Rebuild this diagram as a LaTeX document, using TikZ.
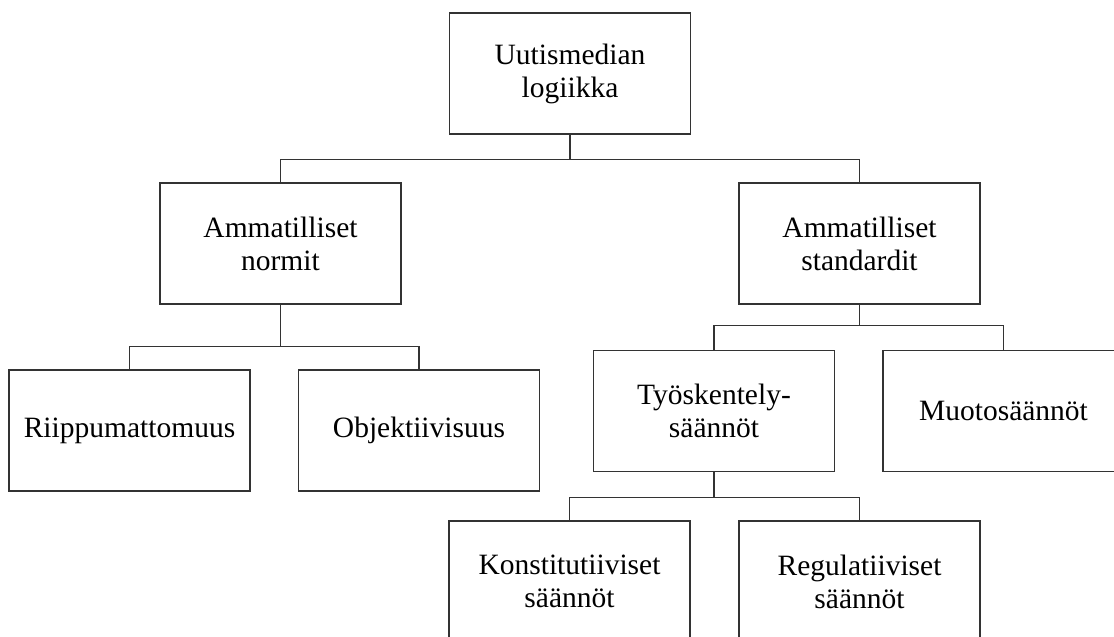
\documentclass[tikz,border=0pt]{standalone}
\usepackage{fontspec}
\setmainfont{Liberation Serif}
\begin{document}
\begin{tikzpicture}[x=1pt,y=-1pt,
  box/.style={draw=black!80, line width=1.3pt, minimum width=241pt, minimum height=121pt,
    inner sep=0pt, align=center, font=\fontsize{29.5}{33}\selectfont},
  conn/.style={draw=black!80, line width=1.3pt}]
\useasboundingbox (0,0) rectangle (1114,637);
\node[box] (top) at (570,73.5) {Uutismedian\\logiikka};
\node[box] (normit) at (280.5,243.5) {Ammatilliset\\normit};
\node[box] (standardit) at (859.5,243.5) {Ammatilliset\\standardit};
\node[box] (riip) at (129.5,430.5) {Riippumattomuus};
\node[box] (obj) at (419,430.5) {Objektiivisuus};
\node[box] (tyo) at (714,411) {Työskentely-\\säännöt};
\node[box] (muoto) at (1003.5,411) {Muotosäännöt};
\node[box] (konst) at (569.5,581.5) {Konstitutiiviset\\säännöt};
\node[box] (reg) at (859.5,581.5) {Regulatiiviset\\säännöt};
\draw[conn] (top.south) -- ++(0,24.5) coordinate (j1);
\draw[conn] (normit.north) |- (j1) -| (standardit.north);
\draw[conn] (normit.south) -- ++(0,42) coordinate (j2);
\draw[conn] (riip.north) |- (j2) -| (obj.north);
\draw[conn] (standardit.south) -- ++(0,21) coordinate (j3);
\draw[conn] (tyo.north) |- (j3) -| (muoto.north);
\draw[conn] (tyo.south) -- ++(0,25) coordinate (j4);
\draw[conn] (konst.north) |- (j4) -| (reg.north);
\end{tikzpicture}
\end{document}
